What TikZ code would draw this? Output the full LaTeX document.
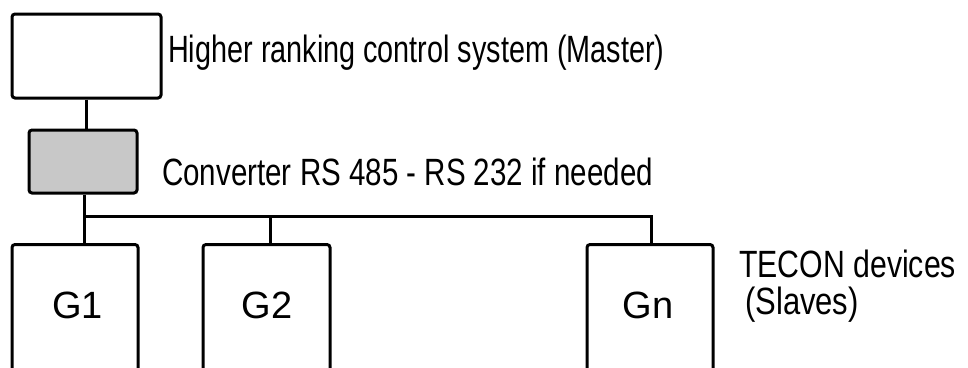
\documentclass[tikz,border=0pt]{standalone}
\usepackage{fontspec}
\setmainfont{Liberation Sans}
\definecolor{convgray}{RGB}{200,200,200}
\begin{document}
\begin{tikzpicture}[x=1pt,y=-1pt,
  box/.style={draw,line width=3pt,rounded corners=3pt,inner sep=0pt},
  wire/.style={line width=3pt},
  lbl/.style={anchor=base west,inner sep=0pt,font=\fontsize{38}{42}\selectfont},
  glbl/.style={anchor=base,inner sep=0pt,font=\fontsize{38}{42}\selectfont}]
\clip (0,0) rectangle (968,367);
\node[box,minimum width=149pt,minimum height=84pt] (master) at (86.5,56) {};
\node[box,fill=convgray,minimum width=108pt,minimum height=63pt] (conv) at (83,161.5) {};
\node[box,minimum width=126pt,minimum height=200pt,anchor=north] (g1) at (75,243) {};
\node[box,minimum width=127pt,minimum height=200pt,anchor=north] (g2) at (266.5,243) {};
\node[box,minimum width=126pt,minimum height=200pt,anchor=north] (gn) at (650,243) {};
\coordinate (t1) at (84,216);
\coordinate (t2) at (270,216);
\coordinate (tn) at (651,216);
\draw[wire] (master.south) -- (master.south |- conv.north);
\draw[wire] (conv.south -| t1) -- (t1 |- g1.north);
\draw[wire] (t1) -- (tn) -- (tn |- gn.north);
\draw[wire] (t2) -- (t2 |- g2.north);
\node[glbl] (g1l) at (77.5,318) {G1};
\node[glbl] (g2l) at (267,318) {G2};
\node[glbl] (gnl) at (648,318) {Gn};
\node[lbl] (mt) at (168,62) {\scalebox{0.758}[1]{Higher ranking control system (Master)}};
\node[lbl] (ct) at (162,185) {\scalebox{0.777}[1]{Converter RS 485 - RS 232 if needed}};
\node[lbl] (tt) at (739,277) {\scalebox{0.796}[1]{TECON devices}};
\node[lbl] (st) at (745,314) {\scalebox{0.815}[1]{(Slaves)}};
\end{tikzpicture}
\end{document}
